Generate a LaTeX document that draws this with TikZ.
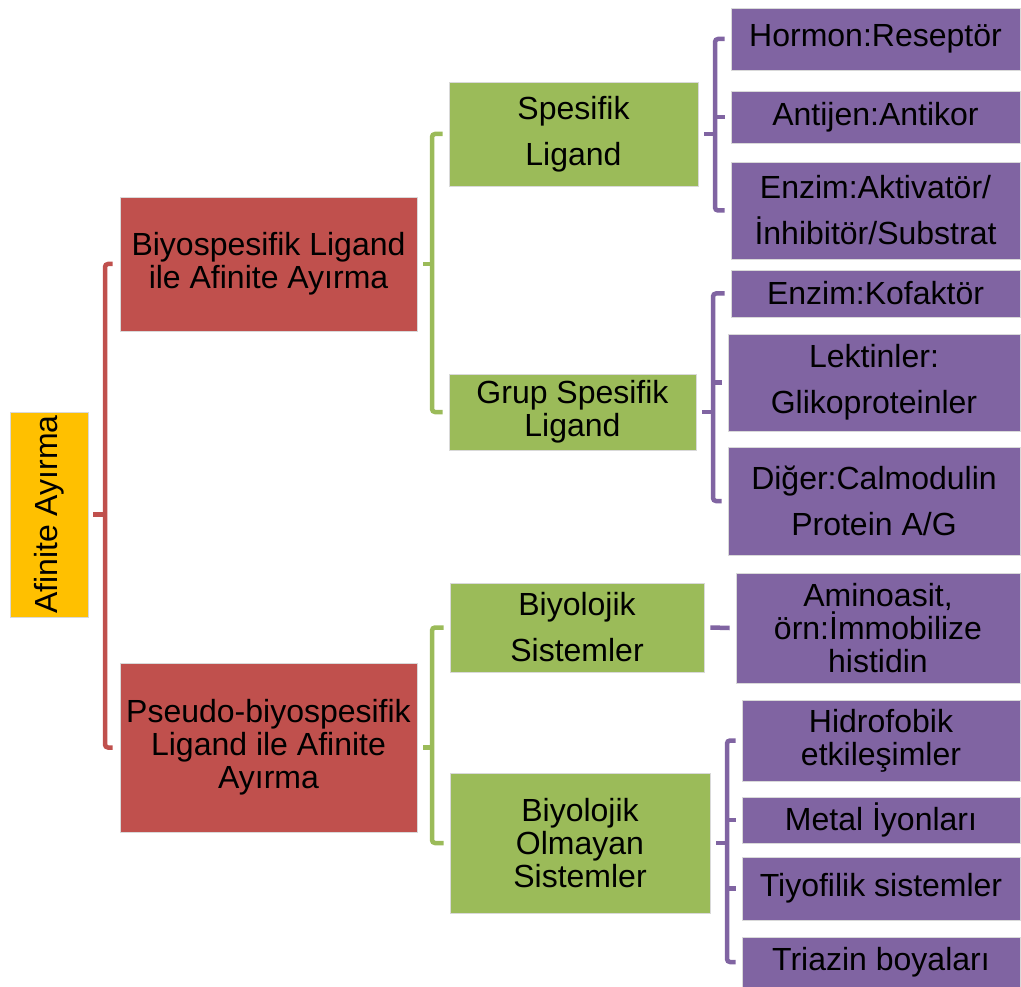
\documentclass[tikz,border=0pt]{standalone}
\usepackage{fontspec}
\setmainfont{Liberation Sans}
\definecolor{cgold}{HTML}{FFC000}
\definecolor{cred}{HTML}{C0504D}
\definecolor{cgreen}{HTML}{9BBB59}
\definecolor{cpurple}{HTML}{8064A2}
\tikzset{
  box/.style={draw=white!85!black, line width=0.8pt, inner sep=0pt, align=center, text=black,
    font=\fontsize{32}{33}\selectfont},
  goldbox/.style={box, fill=cgold},
  redbox/.style={box, fill=cred},
  greenbox/.style={box, fill=cgreen},
  purplebox/.style={box, fill=cpurple},
  brk/.style={line width=4.5pt, rounded corners=3pt, line cap=butt},
  rl/.style={brk, draw=cred},
  gl/.style={brk, draw=cgreen},
  pl/.style={brk, draw=cpurple},
}
\begin{document}
\begin{tikzpicture}[x=1pt,y=1pt]
\useasboundingbox (0,0) rectangle (1021,-987);
% root
\node[goldbox, rotate=90, minimum width=205pt, minimum height=78pt] (root) at (49,-514.5) {Afinite Ayırma};
% red
\node[redbox, minimum width=297pt, minimum height=134pt] (r1) at (268.5,-264) {Biyospesifik Ligand\\ile Afinite Ayırma};
\node[redbox, minimum width=297pt, minimum height=169pt] (r2) at (268.5,-747.5) {Pseudo-biyospesifik\\Ligand ile Afinite\\Ayırma};
% green
\node[greenbox, minimum width=249pt, minimum height=104pt] (g1) at (573.5,-134) {Spesifik\\[13pt]Ligand};
\node[greenbox, minimum width=247pt, minimum height=76pt] (g2) at (572.5,-412) {Grup Spesifik\\Ligand};
\node[greenbox, minimum width=254pt, minimum height=89pt] (g3) at (577,-627.5) {Biyolojik\\[13pt]Sistemler};
\node[greenbox, minimum width=260pt, minimum height=140pt] (g4) at (580,-843) {Biyolojik\\Olmayan\\Sistemler};
% purple
\node[purplebox, minimum width=289pt, minimum height=62pt] (p1) at (875.5,-39) {Hormon:Reseptör};
\node[purplebox, minimum width=289pt, minimum height=52pt] (p2) at (875.5,-117) {Antijen:Antikor};
\node[purplebox, minimum width=289pt, minimum height=97pt] (p3) at (875.5,-210.5) {Enzim:Aktivatör/\\[13pt]İnhibitör/Substrat};
\node[purplebox, minimum width=289pt, minimum height=47pt] (p4) at (875.5,-293.5) {Enzim:Kofaktör};
\node[purplebox, minimum width=292pt, minimum height=97pt] (p5) at (874,-382.5) {Lektinler:\\[13pt]Glikoproteinler};
\node[purplebox, minimum width=292pt, minimum height=108pt] (p6) at (874,-501) {Diğer:Calmodulin\\[13pt]Protein A/G};
\node[purplebox, minimum width=284pt, minimum height=110pt] (p7) at (878,-628) {Aminoasit,\\örn:İmmobilize\\histidin};
\node[purplebox, minimum width=278pt, minimum height=81pt] (p8) at (881,-740.5) {Hidrofobik\\etkileşimler};
\node[purplebox, minimum width=278pt, minimum height=46pt] (p9) at (881,-820) {Metal İyonları};
\node[purplebox, minimum width=278pt, minimum height=63pt] (p10) at (881,-888.5) {Tiyofilik sistemler};
\node[purplebox, minimum width=278pt, minimum height=50pt] (p11) at (881,-962) {Triazin boyaları};
% bracket x positions
\coordinate (bR) at (105,0);
\coordinate (bG) at (432,0);
\coordinate (bP1) at (715,0);
\coordinate (bP2) at (713,0);
\coordinate (bP4) at (727,0);
% red bracket
\draw[rl] ([xshift=-7pt]r1.west) -- (bR |- r1.west) -- (bR |- r2.west) -- ([xshift=-7pt]r2.west);
\draw[rl, rounded corners=0pt] ([xshift=5pt]root.south) -- (bR |- root.south);
% green brackets
\draw[gl] ([xshift=-6pt]g1.west) -- (bG |- g1.west) -- (bG |- g2.west) -- ([xshift=-6pt]g2.west);
\draw[gl, rounded corners=0pt] ([xshift=6pt]r1.east) -- (bG |- r1.east);
\draw[gl] ([xshift=-6pt]g3.west) -- (bG |- g3.west) -- (bG |- g4.west) -- ([xshift=-6pt]g4.west);
\draw[gl, rounded corners=0pt] ([xshift=6pt]r2.east) -- (bG |- r2.east);
% purple brackets
\draw[pl] ([xshift=-6pt]p1.west) -- (bP1 |- p1.west) -- (bP1 |- p3.west) -- ([xshift=-6pt]p3.west);
\draw[pl, rounded corners=0pt] (bP1 |- p2.west) -- ([xshift=-6pt]p2.west);
\draw[pl, rounded corners=0pt] ([xshift=6pt]g1.east) -- (bP1 |- g1.east);
\draw[pl] ([xshift=-6pt]p4.west) -- (bP2 |- p4.west) -- (bP2 |- p6.west) -- ([xshift=-6pt]p6.west);
\draw[pl, rounded corners=0pt] (bP2 |- p5.west) -- ([xshift=-6pt]p5.west);
\draw[pl, rounded corners=0pt] ([xshift=6pt]g2.east) -- (bP2 |- g2.east);
\draw[pl, rounded corners=0pt] ([xshift=6pt]g3.east) -- ([xshift=-6pt]p7.west);
\draw[pl] ([xshift=-6pt]p8.west) -- (bP4 |- p8.west) -- (bP4 |- p11.west) -- ([xshift=-6pt]p11.west);
\draw[pl, rounded corners=0pt] (bP4 |- p9.west) -- ([xshift=-6pt]p9.west);
\draw[pl, rounded corners=0pt] (bP4 |- p10.west) -- ([xshift=-6pt]p10.west);
\draw[pl, rounded corners=0pt] ([xshift=6pt]g4.east) -- (bP4 |- g4.east);
\end{tikzpicture}
\end{document}
